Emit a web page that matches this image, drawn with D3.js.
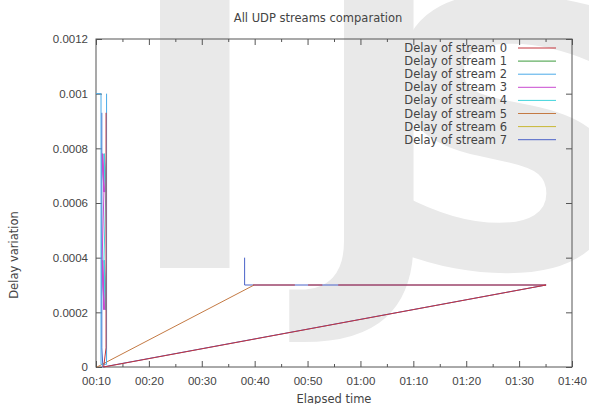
<!DOCTYPE html>
<html>
<head>
<meta charset="utf-8">
<script src="https://cdn.jsdelivr.net/npm/d3@7"></script>
<style>
  body { margin: 0; background: #fff; }
  svg { display: block; font-family: "DejaVu Sans", sans-serif; }
  .axis text { font-size: 11.5px; fill: #444; }
  .axis path { display: none; }
  .axis line { stroke: #555; }
</style>
</head>
<body>
<svg width="589" height="404"></svg>
<script>
var svg = d3.select("svg"),
    width = +svg.attr("width"),
    height = +svg.attr("height");

// elapsed seconds / delay variation
var streamNames = ["Delay of stream 0", "Delay of stream 1", "Delay of stream 2", "Delay of stream 3",
                   "Delay of stream 4", "Delay of stream 5", "Delay of stream 6", "Delay of stream 7"];
var streamColors = ["#c4343c", "#3c9a3c", "#4aaae8", "#c84ad0", "#40d4dc", "#c47a44", "#c8b834", "#4a62c8"];

var stream0 = [[11.9, 0.00093], [11.9, 0.00007], [11.45, 0], [95.1, 0.0003], [null, null],
               [39.7, 0.0003], [47.6, 0.0003], [null, null], [50.1, 0.0003], [52.8, 0.0003], [null, null],
               [55.8, 0.0003], [95.1, 0.0003]];
var stream1 = [];
var stream2 = [[10.0, 0.001], [10.95, 0.001], [10.95, 0.00001], [12.0, 0.00001], [12.0, 0.001]];
var stream3 = [[11.15, 0.00078], [11.5, 0.00064], [11.2, 0.00078], [11.55, 0.00064], [11.25, 0.00078], [11.5, 0.00064],
               [11.15, 0.00039], [11.5, 0.00021], [11.2, 0.00039], [11.55, 0.00021], [11.25, 0.00039], [11.5, 0.00021]];
var stream4 = [[11.5, 0.00078], [11.85, 0.00064], [11.55, 0.00078], [11.8, 0.00064], [11.6, 0.00078], [11.85, 0.00064],
               [11.5, 0.00039], [11.85, 0.00021], [11.55, 0.00039], [11.8, 0.00021], [11.6, 0.00039], [11.85, 0.00021]];
var stream5 = [[10.2, 0], [39.9, 0.0003]];
var stream6 = [];
var stream7 = [[11.1, 0.00093], [11.1, 0.00007], [11.3, 0], [95.1, 0.0003], [38.1, 0.0003], [38.1, 0.0004]];
var streams = [stream0, stream1, stream2, stream3, stream4, stream5, stream6, stream7];

var xTicks = [10, 20, 30, 40, 50, 60, 70, 80, 90, 100];
var xTickLabels = ["00:10", "00:20", "00:30", "00:40", "00:50", "01:00", "01:10", "01:20", "01:30", "01:40"];
var xMinorTicks = [15, 25, 35, 45, 55, 65, 75, 85, 95];
var yTicks = [0, 0.0002, 0.0004, 0.0006, 0.0008, 0.001, 0.0012];
var yTickLabels = ["0", "0.0002", "0.0004", "0.0006", "0.0008", "0.001", "0.0012"];

var watermark = ["I", "J", "S"];

var x = d3.scaleLinear().domain([10, 100]).range([96, 572]);
var y = d3.scaleLinear().domain([0, 0.0012]).range([367, 39]);

svg.append("rect").attr("width", width).attr("height", height).attr("fill", "#fff");

// big grey watermark behind everything
var wmX = [126, 310, 374];
svg.append("g").selectAll("text")
  .data(watermark)
  .enter().append("text")
  .attr("x", function(d, i) { return wmX[i]; })
  .attr("y", 268)
  .style("font-family", "DejaVu Sans")
  .style("font-weight", "bold")
  .style("font-size", "370px")
  .attr("fill", "#e9e9e9")
  .text(function(d) { return d; });

// axes, ticks drawn inward and mirrored
svg.append("g").attr("class", "axis")
  .attr("transform", "translate(0,367)")
  .call(d3.axisBottom(x).tickValues(xTicks).tickSize(-6).tickPadding(10)
    .tickFormat(function(d, i) { return xTickLabels[i]; }));
svg.append("g").attr("class", "axis")
  .attr("transform", "translate(0,367)")
  .call(d3.axisBottom(x).tickValues(xMinorTicks).tickSize(-3).tickFormat(""));
svg.append("g").attr("class", "axis")
  .attr("transform", "translate(0,39)")
  .call(d3.axisTop(x).tickValues(xTicks).tickSize(-6).tickFormat(""));
svg.append("g").attr("class", "axis")
  .attr("transform", "translate(0,39)")
  .call(d3.axisTop(x).tickValues(xMinorTicks).tickSize(-3).tickFormat(""));
svg.append("g").attr("class", "axis")
  .attr("transform", "translate(96,0)")
  .call(d3.axisLeft(y).tickValues(yTicks).tickSize(-6).tickPadding(8)
    .tickFormat(function(d, i) { return yTickLabels[i]; }));
svg.append("g").attr("class", "axis")
  .attr("transform", "translate(572,0)")
  .call(d3.axisRight(y).tickValues(yTicks).tickSize(-6).tickFormat(""));

svg.append("rect")
  .attr("x", x(10)).attr("y", y(0.0012))
  .attr("width", x(100) - x(10)).attr("height", y(0) - y(0.0012))
  .attr("fill", "none").attr("stroke", "#555");

// series, last stream drawn first so stream 0 sits on top
var line = d3.line()
  .defined(function(d) { return d[0] != null; })
  .x(function(d) { return x(d[0]); })
  .y(function(d) { return y(d[1]); });

var order = d3.range(streams.length).reverse();
svg.append("g").selectAll("path")
  .data(order)
  .enter().append("path")
  .attr("d", function(i) { return line(streams[i]); })
  .attr("fill", "none")
  .attr("stroke", function(i) { return streamColors[i]; })
  .attr("stroke-width", 1);

// legend
var legend = svg.append("g").selectAll("g")
  .data(streamNames)
  .enter().append("g")
  .attr("transform", function(d, i) { return "translate(0," + (48 + i * 13.1) + ")"; });
legend.append("text")
  .attr("x", 507).attr("y", 4)
  .attr("text-anchor", "end")
  .style("font-size", "11.5px")
  .attr("fill", "#444")
  .text(function(d) { return d; });
legend.append("line")
  .attr("x1", 518).attr("x2", 556)
  .attr("stroke", function(d, i) { return streamColors[i]; });

svg.append("text")
  .attr("x", 318).attr("y", 22)
  .attr("text-anchor", "middle")
  .style("font-size", "11.5px")
  .attr("fill", "#444")
  .text("All UDP streams comparation");

svg.append("text")
  .attr("transform", "translate(18,255) rotate(-90)")
  .attr("text-anchor", "middle")
  .style("font-size", "11.5px")
  .attr("fill", "#444")
  .text("Delay variation");

svg.append("text")
  .attr("x", 334).attr("y", 403)
  .attr("text-anchor", "middle")
  .style("font-size", "11.5px")
  .attr("fill", "#444")
  .text("Elapsed time");
</script>
</body>
</html>
